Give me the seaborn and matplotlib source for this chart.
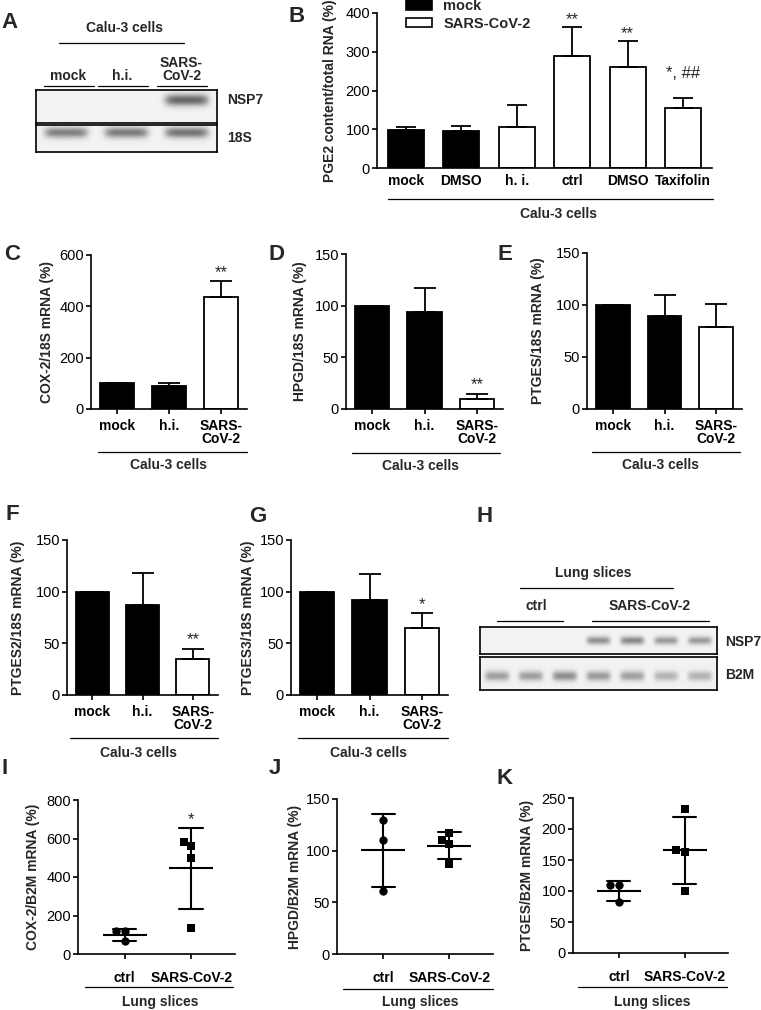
import numpy as np
import pandas as pd
import matplotlib
matplotlib.use('Agg')
import matplotlib.pyplot as plt
from matplotlib.lines import Line2D
from matplotlib.patches import Patch
import seaborn as sns

# ---- data ----
# B: PGE2 content
b_keys = ['mock', 'DMSO_mock', 'hi', 'ctrl', 'DMSO_cov', 'Taxifolin']
b_labels = ['mock', 'DMSO', 'h. i.', 'ctrl', 'DMSO', 'Taxifolin']
b_group = ['mock', 'mock', 'SARS-CoV-2', 'SARS-CoV-2', 'SARS-CoV-2', 'SARS-CoV-2']
b_mean = [98, 96, 107, 288, 260, 156]
b_err = [8, 12, 56, 76, 68, 25]
b_sig = ['', '', '', '**', '**', '*, ##']

# C-G: Calu-3 mRNA
cell_keys = ['mock', 'h.i.', 'SARS-\nCoV-2']
cell_group = ['mock', 'mock', 'SARS-CoV-2']
cox2_mean = [100, 88, 437]
cox2_err = [0, 15, 60]
cox2_sig = ['', '', '**']
hpgd_mean = [100, 94, 10]
hpgd_err = [0, 23, 5]
hpgd_sig = ['', '', '**']
ptges_mean = [100, 89, 79]
ptges_err = [0, 21, 22]
ptges_sig = ['', '', '']
ptges2_mean = [100, 87, 35]
ptges2_err = [0, 31, 10]
ptges2_sig = ['', '', '**']
ptges3_mean = [100, 92, 65]
ptges3_err = [0, 25, 14]
ptges3_sig = ['', '', '*']

# I-K: lung slices, single values
slice_keys = ['ctrl', 'SARS-CoV-2']
cox2_ctrl = [118, 120, 65]
cox2_sars = [561, 583, 497, 137]
hpgd_ctrl = [130, 110, 61]
hpgd_sars = [117, 106, 110, 87]
ptgesb_ctrl = [110, 110, 82]
ptgesb_sars = [163, 166, 100, 233]
slice_sig = ['', '*']

# gels: band strength per lane
a_nsp7 = [0.0, 0.0, 0.55]
a_18s = [0.45, 0.47, 0.5]
h_nsp7 = [0.0, 0.0, 0.0, 0.38, 0.42, 0.35, 0.35]
h_b2m = [0.33, 0.33, 0.4, 0.35, 0.33, 0.25, 0.25]

sns.set_style('ticks')
plt.rcParams['font.family'] = ['Liberation Sans', 'DejaVu Sans']
plt.rcParams['axes.linewidth'] = 1.2
plt.rcParams['axes.edgecolor'] = 'black'
plt.rcParams['xtick.color'] = 'black'
plt.rcParams['ytick.color'] = 'black'

W, H = 761, 1010
fig = plt.figure(figsize=(W / 100, H / 100), dpi=100)
pal = {'mock': 'black', 'SARS-CoV-2': 'white'}


def px_axes(x0, y0, x1, y1):
    return fig.add_axes([x0 / W, 1 - y1 / H, (x1 - x0) / W, (y1 - y0) / H])


def ftext(x, y, s, **kw):
    kw.setdefault('ha', 'center')
    kw.setdefault('va', 'center')
    kw.setdefault('fontweight', 'bold')
    kw.setdefault('fontsize', 10)
    fig.text(x / W, 1 - y / H, s, **kw)


def fline(x0, x1, y):
    fig.add_artist(Line2D([x0 / W, x1 / W], [1 - y / H] * 2, color='k', lw=0.9))


def style_axes(ax, yticks, xtick_len, xpad):
    ax.set_ylim(yticks[0], yticks[-1])
    ax.set_yticks(yticks)
    ax.set_xlabel('')
    ax.set_ylabel('')
    ax.tick_params(axis='y', length=3.5, width=1.2, pad=1.5, labelsize=10.5)
    ax.tick_params(axis='x', length=xtick_len, width=1.2, pad=xpad, labelsize=10)
    for t in ax.get_xticklabels():
        t.set_fontweight('bold')
        t.set_linespacing(0.95)
    sns.despine(ax=ax)


def bar_panel(box, keys, labels, groups, means, errs, sigs, yticks, ylabel, ylab_x,
              xtick_len=3.5, xpad=3.5, capsize=8, sig_pad=None):
    ax = px_axes(*box)
    df = pd.DataFrame({'key': keys, 'val': means, 'group': groups})
    sns.barplot(data=df, x='key', y='val', hue='group', palette=pal, order=keys,
                dodge=False, errorbar=None, edgecolor='k', linewidth=1.3,
                width=0.65, legend=False, ax=ax)
    pos = np.arange(len(keys))
    ax.errorbar(pos, means, yerr=[np.zeros(len(keys)), errs], fmt='none',
                ecolor='k', elinewidth=1.3, capsize=capsize, capthick=1.3)
    if sig_pad is None:
        sig_pad = [1] * len(keys)
    for i, s in enumerate(sigs):
        if s:
            ax.annotate(s, (i, means[i] + errs[i]), xytext=(0, sig_pad[i]),
                        textcoords='offset points', ha='center', va='bottom',
                        fontsize=12, annotation_clip=False)
    ax.set_xticks(pos, labels)
    ax.set_xlim(-0.5, len(keys) - 0.5)
    style_axes(ax, yticks, xtick_len, xpad)
    ftext(ylab_x, (box[1] + box[3]) / 2, ylabel, rotation=90)
    return ax


def dot_panel(box, ctrl, sars, sigs, yticks, ylabel, ylab_x):
    ax = px_axes(*box)
    df = pd.DataFrame({'cond': ['ctrl'] * len(ctrl) + ['SARS-CoV-2'] * len(sars),
                       'val': ctrl + sars})
    sns.pointplot(data=df, x='cond', y='val', order=slice_keys, errorbar='sd',
                  capsize=0.35, linestyle='none', marker='_', markersize=31,
                  markeredgewidth=1.5, color='k', err_kws={'linewidth': 1.5}, ax=ax)
    sns.swarmplot(data=df[df.cond == 'ctrl'], x='cond', y='val', order=slice_keys,
                  marker='o', color='k', size=6, ax=ax)
    sns.swarmplot(data=df[df.cond == 'SARS-CoV-2'], x='cond', y='val', order=slice_keys,
                  marker='s', color='k', size=6, ax=ax)
    for i, (s, vals) in enumerate(zip(sigs, [ctrl, sars])):
        if s:
            top = np.mean(vals) + np.std(vals, ddof=1)
            ax.annotate(s, (i, top), xytext=(0, 1), textcoords='offset points',
                        ha='center', va='bottom', fontsize=12, annotation_clip=False)
    ax.set_xticks([0, 1], slice_keys)
    ax.set_xlim(-0.7, 1.66)
    style_axes(ax, yticks, 3.5, 9)
    ftext(ylab_x, (box[1] + box[3]) / 2, ylabel, rotation=90)
    return ax


def gel(box, bands, yc, h, band_w=0.72):
    ax = px_axes(*box)
    n = len(bands)
    xs = np.linspace(0, n, 600)
    ys = np.linspace(-1, 1, 80)
    img = np.full((len(ys), len(xs)), 0.95)
    for i, v in enumerate(bands):
        prof_x = np.exp(-np.abs((xs - i - 0.5) / (band_w / 2)) ** 6)
        prof_y = np.exp(-((ys - yc) / h) ** 2)
        img -= v * np.outer(prof_y, prof_x)
    ax.imshow(img, cmap='gray', vmin=0, vmax=1, aspect='auto', origin='lower',
              extent=(0, n, -1, 1), interpolation='bilinear')
    ax.set_xticks([])
    ax.set_yticks([])
    for s in ax.spines.values():
        s.set_linewidth(1.2)
    return ax


# ---- A: gel ----
gel((36, 90, 217, 123), a_nsp7, 0.4, 0.35)
gel((36, 125, 217, 152), a_18s, 0.45, 0.4)
ftext(10, 22, 'A', fontsize=16)
ftext(125, 28, 'Calu-3 cells')
fline(59, 184, 43)
for cx, lab in zip([68.5, 122.5, 181.5], cell_keys):
    ftext(cx, 83, lab.replace('h.i.', 'h.i.'), va='bottom', linespacing=0.95)
    fline(cx - 25, cx + 25, 86)
ftext(227, 100, 'NSP7', ha='left')
ftext(227, 138, '18S', ha='left')

# ---- B ----
axb = bar_panel((377, 13, 712, 168), b_keys, b_labels, b_group, b_mean, b_err, b_sig,
                [0, 100, 200, 300, 400], 'PGE2 content/total RNA (%)', 330,
                xtick_len=0, xpad=4, capsize=7, sig_pad=[1, 1, 1, 0, 0, 12])
axb.set_xlim(-0.52, 5.52)
handles = [Patch(facecolor=pal[g], edgecolor='k', lw=1.2, label=g) for g in pal]
axb.legend(handles=handles, loc='upper left', bbox_to_anchor=(406 / W, 1 + 1 / H),
           bbox_transform=fig.transFigure, frameon=False, borderpad=0, borderaxespad=0,
           handlelength=1.75, handleheight=0.65, handletextpad=0.8, labelspacing=0.25,
           prop={'weight': 'bold', 'size': 10.5})
ftext(297, 17, 'B', fontsize=16)
fline(388, 713, 199)
ftext(558, 214, 'Calu-3 cells')

# ---- C, D, E ----
bar_panel((91, 255, 247, 409), cell_keys, cell_keys, cell_group, cox2_mean, cox2_err,
          cox2_sig, [0, 200, 400, 600], 'COX-2/18S mRNA (%)', 47)
bar_panel((346, 254, 503, 409), cell_keys, cell_keys, cell_group, hpgd_mean, hpgd_err,
          hpgd_sig, [0, 50, 100, 150], 'HPGD/18S mRNA (%)', 300)
bar_panel((587, 253, 742, 409), cell_keys, cell_keys, cell_group, ptges_mean, ptges_err,
          ptges_sig, [0, 50, 100, 150], 'PTGES/18S mRNA (%)', 538)
ftext(12, 255, 'C', fontsize=16)
ftext(276, 255, 'D', fontsize=16)
ftext(505, 255, 'E', fontsize=16)
fline(98, 247, 452)
ftext(168, 465, 'Calu-3 cells')
fline(352, 500, 453)
ftext(421, 466, 'Calu-3 cells')
fline(592, 740, 452)
ftext(661, 465, 'Calu-3 cells')

# ---- F, G ----
bar_panel((67, 540, 218, 695), cell_keys, cell_keys, cell_group, ptges2_mean, ptges2_err,
          ptges2_sig, [0, 50, 100, 150], 'PTGES2/18S mRNA (%)', 18)
bar_panel((291, 540, 448, 695), cell_keys, cell_keys, cell_group, ptges3_mean, ptges3_err,
          ptges3_sig, [0, 50, 100, 150], 'PTGES3/18S mRNA (%)', 248)
ftext(12, 515, 'F', fontsize=16)
ftext(258, 516, 'G', fontsize=16)
fline(70, 218, 738)
ftext(138, 753, 'Calu-3 cells')
fline(298, 448, 738)
ftext(368, 753, 'Calu-3 cells')

# ---- H: gel ----
ftext(485, 516, 'H', fontsize=16)
ftext(593, 573, 'Lung slices')
fline(520, 673, 588)
ftext(536, 606, 'ctrl')
fline(497, 563, 621)
ftext(650, 606, 'SARS-CoV-2')
fline(592, 709, 621)
gel((480, 627, 717, 654), h_nsp7, 0.0, 0.3, band_w=0.7)
gel((480, 657, 717, 690), h_b2m, -0.15, 0.3, band_w=0.72)
ftext(725, 642, 'NSP7', ha='left')
ftext(725, 675, 'B2M', ha='left')

# ---- I, J, K ----
dot_panel((78, 800, 235, 954), cox2_ctrl, cox2_sars, slice_sig,
          [0, 200, 400, 600, 800], 'COX-2/B2M mRNA (%)', 33)
dot_panel((337, 799, 493, 954), hpgd_ctrl, hpgd_sars, ['', ''],
          [0, 50, 100, 150], 'HPGD/B2M mRNA (%)', 295)
dot_panel((573, 798, 728, 953), ptgesb_ctrl, ptgesb_sars, ['', ''],
          [0, 50, 100, 150, 200, 250], 'PTGES/B2M mRNA (%)', 527)
ftext(5, 768, 'I', fontsize=16)
ftext(275, 768, 'J', fontsize=16)
ftext(505, 779, 'K', fontsize=16)
fline(85, 233, 987)
ftext(160, 1002, 'Lung slices')
fline(343, 493, 989)
ftext(420, 1002, 'Lung slices')
fline(578, 727, 987)
ftext(652, 1002, 'Lung slices')

fig.savefig('out.png', dpi=100)
